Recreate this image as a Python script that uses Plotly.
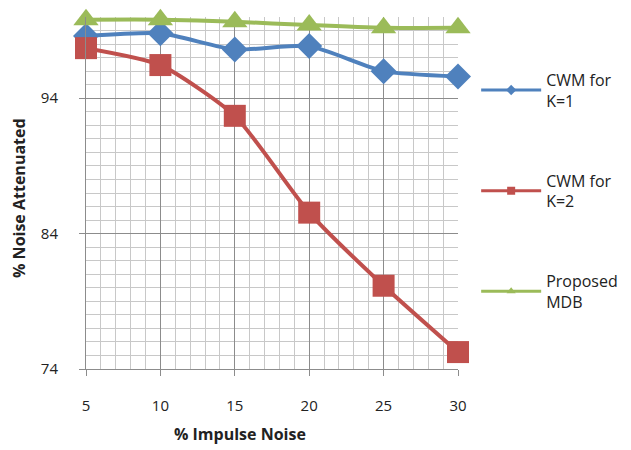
import plotly.graph_objects as go

impulse_noise = [5, 10, 15, 20, 25, 30]
cwm_k1 = [98.6, 98.8, 97.6, 97.85, 96.0, 95.6]
cwm_k2 = [97.7, 96.45, 92.7, 85.55, 80.15, 75.25]
proposed_mdb = [99.8, 99.8, 99.65, 99.4, 99.2, 99.2]

series = [
    ("CWM for<br>K=1", cwm_k1, "#4F81BD", "diamond", 20),
    ("CWM for<br>K=2", cwm_k2, "#C0504D", "square", 22),
    ("Proposed<br>MDB", proposed_mdb, "#9BBB59", "triangle-up", 22),
]

fig = go.Figure()

# plotted series (no legend)
for name, vals, color, symbol, size in series:
    fig.add_trace(go.Scatter(
        x=impulse_noise, y=vals, mode="lines+markers",
        line=dict(color=color, width=4, shape="spline", smoothing=0.6),
        marker=dict(color=color, symbol=symbol, size=size),
        showlegend=False, cliponaxis=False,
    ))

# legend entries with small markers
for i, (name, vals, color, symbol, size) in enumerate(series):
    fig.add_trace(go.Scatter(
        x=[None], y=[None], mode="lines+markers", name=name,
        line=dict(color=color, width=3),
        marker=dict(color=color, symbol=symbol, size=8),
        legendgroup=f"g{i}",
    ))

fig.update_xaxes(
    range=[5, 30], dtick=5, tick0=5, automargin=False,
    showgrid=True, gridcolor="#8c8c8c", gridwidth=1,
    minor=dict(dtick=1, showgrid=True, gridcolor="#c8c8c8", gridwidth=1),
    ticks="outside", ticklen=6, tickcolor="#8c8c8c",
    showline=True, linecolor="#8c8c8c", mirror=False,
    zeroline=False, ticklabelstandoff=17,
    tickfont=dict(size=15, color="#222"),
)
fig.update_yaxes(
    range=[74, 100], dtick=10, tick0=74, automargin=False,
    showgrid=True, gridcolor="#8c8c8c", gridwidth=1,
    minor=dict(dtick=1, tick0=74, showgrid=True, gridcolor="#c8c8c8", gridwidth=1),
    ticks="outside", ticklen=6, tickcolor="#8c8c8c",
    showline=True, linecolor="#8c8c8c",
    zeroline=False, ticklabelstandoff=18,
    tickfont=dict(size=15, color="#222"),
)

# axis titles placed as in the original (x title sits left of centre)
fig.add_annotation(
    text="<b>% Impulse Noise</b>", xref="paper", yref="paper",
    x=0.413, y=-0.222, showarrow=False, font=dict(size=16, color="#222"),
)
fig.add_annotation(
    text="<b>% Noise Attenuated</b>", xref="paper", yref="paper",
    x=-0.215, y=0.486, textangle=-90, showarrow=False,
    font=dict(size=16, color="#222"),
)

# page body adds ~8px offset, so the figure is sized a little smaller
fig.update_layout(
    width=623, height=442,
    paper_bgcolor="white", plot_bgcolor="white",
    font=dict(family="Open Sans, Liberation Sans, sans-serif"),
    margin=dict(l=78, r=172, t=9, b=81),
    legend=dict(
        x=1.046, xanchor="left", y=0.87, yanchor="top",
        tracegroupgap=56, itemwidth=60, font=dict(size=16, color="#222"),
        bgcolor="rgba(0,0,0,0)",
    ),
)

fig.write_html("out.html")
